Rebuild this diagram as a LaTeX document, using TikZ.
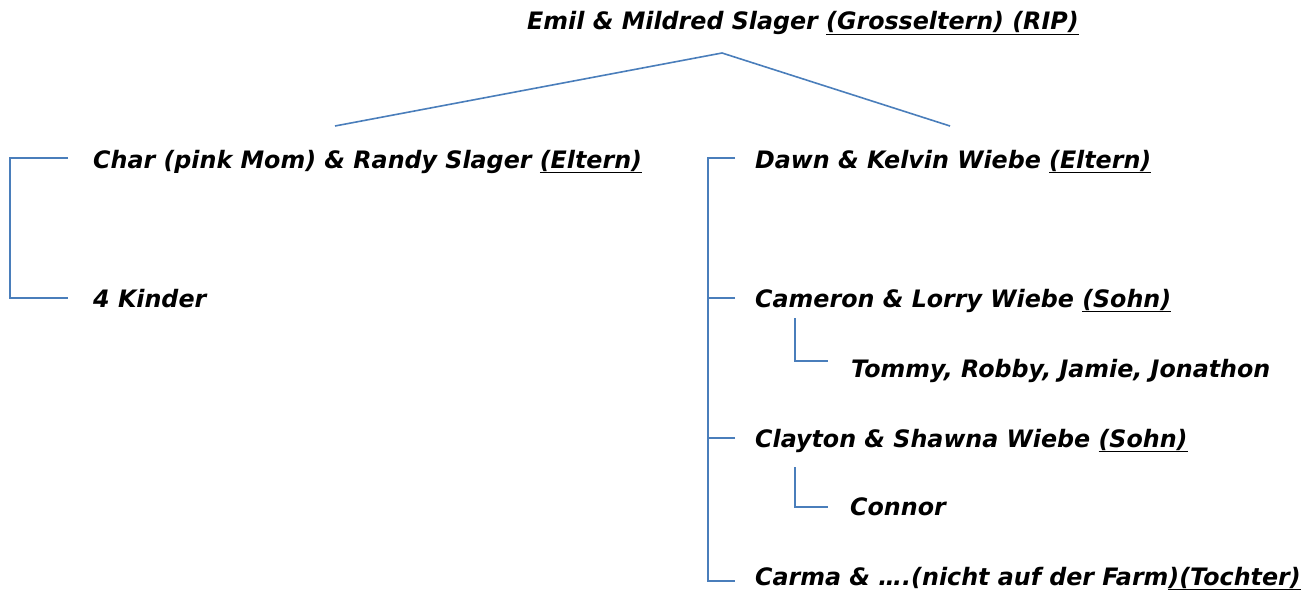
\documentclass[tikz,border=0pt]{standalone}
\usepackage{fontspec}
\setmainfont{DejaVu Sans}[FakeStretch=0.99]
\definecolor{linkblue}{HTML}{4A7EBB}
\begin{document}
\begin{tikzpicture}[x=1pt,y=-1pt,
  lbl/.style={anchor=base west,inner sep=0pt,font=\fontsize{24}{28}\selectfont\bfseries\itshape},
  link/.style={draw=linkblue,line width=1.6pt}]
\useasboundingbox (0,0) rectangle (1305,591);
% texts
\node[lbl] (emil) at (527,30) {Emil \& Mildred Slager \underline{(Grosseltern) (RIP)}};
\node[lbl] (char) at (93,168) {Char (pink Mom) \& Randy Slager \underline{(Eltern)}};
\node[lbl] (kinder) at (93,307) {4 Kinder};
\node[lbl] (dawn) at (755,168) {Dawn \& Kelvin Wiebe \underline{(Eltern)}};
\node[lbl] (cameron) at (755,307) {Cameron \& Lorry Wiebe \underline{(Sohn)}};
\node[lbl] (tommy) at (851,377) {Tommy, Robby, Jamie, Jonathon};
\node[lbl] (clayton) at (755,447) {Clayton \& Shawna Wiebe \underline{(Sohn)}};
\node[lbl] (connor) at (850,515) {Connor};
\node[lbl] (carma) at (755,585) {Carma \& ….(nicht auf der Farm\underline{)(Tochter)}};
% connector points
\coordinate (peak) at (722,53);
\coordinate (lend) at (335,126);
\coordinate (rend) at (950,126);
\coordinate (lt) at (68,158);
\coordinate (lb) at (68,298);
\coordinate (lc) at (10,158);
\coordinate (ld) at (10,298);
\coordinate (r0) at (735,158);
\coordinate (r1) at (735,298);
\coordinate (r2) at (735,438);
\coordinate (r3) at (735,581);
\coordinate (v0) at (708,158);
\coordinate (v3) at (708,581);
\coordinate (s1t) at (795,318);
\coordinate (s1b) at (795,361);
\coordinate (s1e) at (828,361);
\coordinate (s2t) at (795,467);
\coordinate (s2b) at (795,507);
\coordinate (s2e) at (828,507);
% connectors
\draw[link] (lend) -- (peak) -- (rend);
\draw[link] (lt) -- (lc) -- (ld) -- (lb);
\draw[link] (r0) -- (v0) -- (v3) -- (r3);
\draw[link] (r1) -- (r1 -| v0);
\draw[link] (r2) -- (r2 -| v0);
\draw[link] (s1t) -- (s1b) -- (s1e);
\draw[link] (s2t) -- (s2b) -- (s2e);
\end{tikzpicture}
\end{document}
